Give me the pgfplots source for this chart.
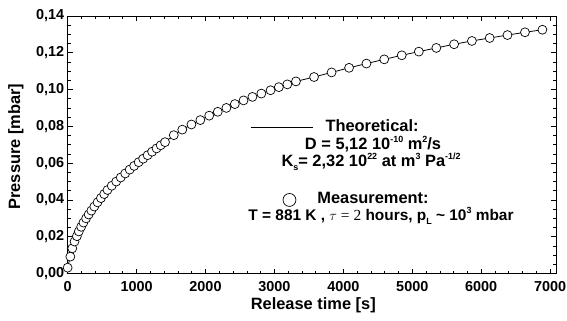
\documentclass[border=0pt]{standalone}
\usepackage{pgfplots}
\pgfplotsset{compat=1.18}
\usepackage{pgfplotstable}
\usepackage{fontspec}
\setmainfont{Liberation Sans}
\newfontfamily\seriffont{Liberation Serif}
\newcommand\sups[1]{\raisebox{0.42em}{\fontsize{9}{10}\selectfont #1}}
\newcommand\subs[1]{\raisebox{-0.25em}{\fontsize{9}{10}\selectfont #1}}
\pgfplotstableread{
t p
0 0.0032
39 0.0092
67 0.0137
100 0.0174
134 0.0203
162 0.0229
196 0.0254
229 0.0277
268 0.0300
305 0.0321
344 0.0342
387 0.0364
434 0.0387
483 0.0410
530 0.0432
578 0.0454
640 0.0477
705 0.0500
770 0.0522
835 0.0544
900 0.0565
965 0.0585
1030 0.0605
1095 0.0624
1160 0.0643
1225 0.0662
1290 0.0680
1350 0.0697
1413 0.0714
1540 0.0752
1663 0.0782
1796 0.0810
1925 0.0834
2054 0.0858
2178 0.0879
2303 0.0900
2426 0.0921
2552 0.0941
2681 0.0960
2810 0.0978
2944 0.0996
3064 0.1013
3187 0.1028
3312 0.1044
3575 0.1068
3829 0.1093
4083 0.1118
4335 0.1141
4593 0.1164
4847 0.1186
5095 0.1206
5349 0.1226
5607 0.1246
5865 0.1264
6123 0.1280
6381 0.1296
6635 0.1311
6888 0.1325
}\meas
\pgfplotstableread{
t p
0 0.0032
39 0.0092
67 0.0137
100 0.0174
162 0.0229
229 0.0277
305 0.0321
387 0.0364
483 0.0410
578 0.0454
705 0.0500
835 0.0544
965 0.0585
1095 0.0624
1225 0.0662
1350 0.0697
1413 0.0714
1540 0.0752
1663 0.0782
1796 0.0810
1925 0.0834
2054 0.0858
2178 0.0879
2303 0.0900
2426 0.0921
2552 0.0941
2681 0.0960
2810 0.0978
2944 0.0996
3064 0.1013
3187 0.1028
3312 0.1044
3575 0.1068
3829 0.1093
4083 0.1118
4335 0.1141
4593 0.1164
4847 0.1186
5095 0.1206
5349 0.1226
5607 0.1246
5865 0.1264
6123 0.1280
6381 0.1296
6635 0.1311
6888 0.1325
6950 0.1328
}\theo
\begin{document}
\begin{tikzpicture}
\begin{axis}[
  at={(0pt,0pt)}, anchor=south west,
  width=491pt, height=259pt, scale only axis,
  xmin=0, xmax=7086, ymin=0, ymax=0.14,
  xtick={0,1000,2000,3000,4000,5000,6000,7000},
  ytick={0,0.02,0.04,0.06,0.08,0.10,0.12,0.14},
  minor x tick num=4, minor y tick num=3,
  tick align=inside,
  major tick length=5pt, minor tick length=3pt,
  every tick/.style={black, line width=0.6pt},
  axis line style={line width=0.8pt},
  clip=false,
  /pgf/number format/assume math mode=true,
  ticklabel style={font=\fontsize{14.5}{16}\selectfont\bfseries},
  yticklabel style={/pgf/number format/fixed, /pgf/number format/fixed zerofill, /pgf/number format/precision=2, /pgf/number format/use comma},
  xticklabel style={/pgf/number format/fixed, /pgf/number format/1000 sep={}, yshift=-4pt},
  xlabel={Release time [s]},
  ylabel={Pressure [mbar]},
  every axis x label/.style={at={(axis description cs:0.503,-0.124)}, anchor=center, font=\fontsize{16.5}{18}\selectfont\bfseries},
  every axis y label/.style={at={(axis description cs:-0.106,0.493)}, anchor=center, rotate=90, font=\fontsize{16.5}{18}\selectfont\bfseries},
]
\addplot[black, line width=0.8pt] table[x=t, y=p] {\theo};
\addplot[only marks, mark=*, mark size=4.5pt, mark options={fill=white, draw=black, line width=0.7pt}] table[x=t, y=p] {\meas};
\end{axis}
\begin{scope}[font=\fontsize{16.5}{18}\selectfont\bfseries]
\draw[black, line width=0.6pt] (184pt,147pt) -- (247pt,147pt);
\node at (306pt,149pt) {Theoretical:};
\node at (307pt,130pt) {D = 5,12 10\sups{-10} m\sups{2}/s};
\node at (305pt,112pt) {K\subs{s}= 2,32 10\sups{22} at m\sups{3} Pa\sups{-1/2}};
\node[circle, draw=black, line width=0.7pt, fill=white, minimum size=13pt, inner sep=0pt] at (223pt,74pt) {};
\node at (307pt,76pt) {Measurement:};
\node[font=\fontsize{15.5}{17}\selectfont\bfseries] at (315pt,58pt) {T = 881 K , {\seriffont\mdseries $\tau$ = 2} hours, p\subs{L} \textasciitilde{} 10\sups{3} mbar};
\end{scope}
\pgfresetboundingbox
\path[use as bounding box] (-68pt,-47pt) rectangle (502pt,275pt);
\end{tikzpicture}
\end{document}
